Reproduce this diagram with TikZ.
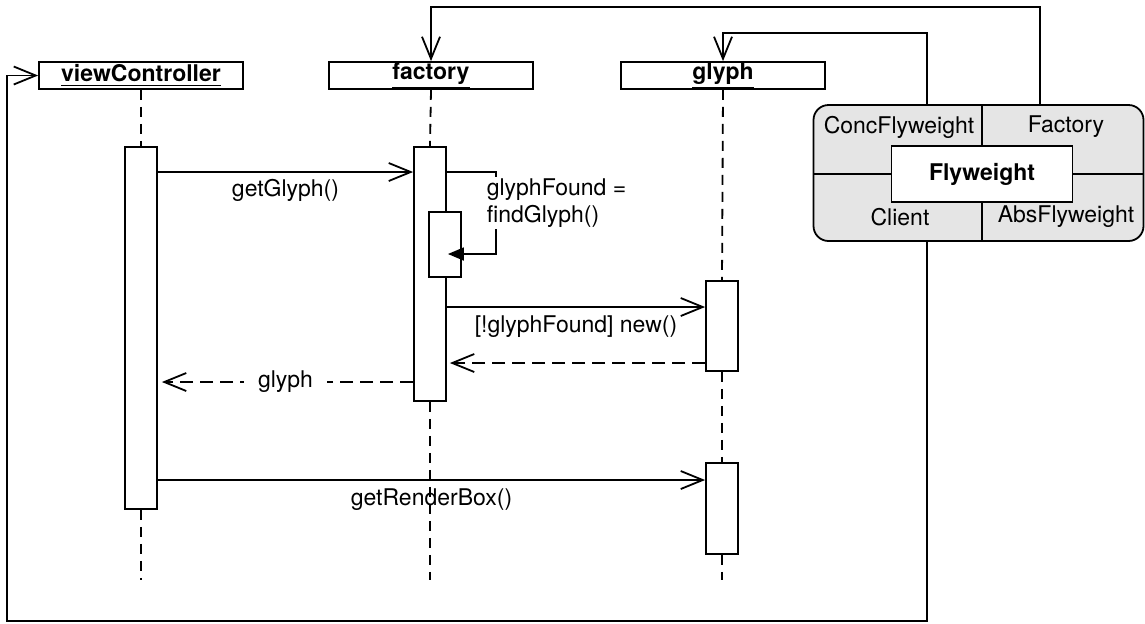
\documentclass[tikz,border=0pt]{standalone}
\usepackage{fontspec}
\setmainfont{TeX Gyre Heros}
\usetikzlibrary{arrows.meta}
\newcommand{\dfont}{\fontsize{11.5pt}{13.5pt}\selectfont}
\tikzstyle{object}=[draw, fill=white, minimum width=102pt, minimum height=13.5pt, inner sep=0pt, font=\dfont\bfseries]
\tikzstyle{act}=[draw, fill=white, minimum width=16pt, inner sep=0pt]
\tikzstyle{lifeline}=[dash pattern=on 5pt off 3.5pt]
\tikzstyle{msg}=[-{Straight Barb[length=11pt,width=9pt]}]
\tikzstyle{ret}=[msg, dash pattern=on 6.5pt off 3.5pt]
\newcommand{\obj}[3]{\node[object] (#1) at (#2,75.5){\underline{#3}};}

\begin{document}
\begin{tikzpicture}[x=0.5pt, y=-0.5pt, line width=0.9pt, font=\dfont]
\useasboundingbox (0,0) rectangle (1145,623);
% objects and activations
\obj{vc}{141}{viewController}
\obj{fac}{431}{factory}
\obj{gly}{723}{glyph}
\node[act, minimum height=181pt] (vca) at (141,328){};
\node[act, minimum height=127pt] (fa) at (430,274){};
\node[act, minimum height=32.5pt] (fb) at (445,244.5){};
\node[act, minimum height=45pt] (ga1) at (722,326){};
\node[act, minimum height=45.5pt] (ga2) at (722,508.5){};
\foreach \n/\x in {vcend/141, faend/430, glend/722}
	\node[inner sep=0pt] (\n) at (\x,582){};
\foreach \a/\b in {vc/vca, vca/vcend, fac/fa, fa/faend, gly/ga1, ga1/ga2, ga2/glend}
	\draw[lifeline] (\a.south) -- (\b.north);

% messages
\draw[msg] (vca.east |- 0,172) -- node[yshift=-9pt]{getGlyph()} (fa.west |- 0,172);
\draw[-{Triangle[length=8pt,width=6.5pt]}, shorten >=-7pt] (fa.east |- 0,172) -- (496,172) |- (fb.east |- 0,254);
\node[fill=white, align=left, anchor=west, inner sep=1pt] (find) at (484,203){glyphFound =\\findGlyph()};
\draw[msg] (fa.east |- 0,307) -- node[yshift=-10pt]{[!glyphFound] new()} (ga1.west |- 0,307);
\draw[ret, shorten >=1.5pt] (ga1.west |- 0,363) -- (fa.east |- 0,363);
\draw[ret, shorten >=2pt] (fa.west |- 0,382) -- node[fill=white, inner xsep=7pt]{glyph} (vca.east |- 0,382);
\draw[msg] (vca.east |- 0,480) -- node[yshift=-10pt]{getRenderBox()} (ga2.west |- 0,480);

% flyweight pattern
\node[draw, rounded corners=7.5pt, fill=black!10, minimum width=165pt, minimum height=68pt] (pat) at (978.5,173){};
\node[draw, fill=white, minimum width=90.5pt, minimum height=28pt, font=\dfont\bfseries] (fly) at (982,174){Flyweight};
\foreach \a in {north, south}
	\draw (fly.\a) -- (fly.\a |- pat.\a);
\foreach \a in {west, east}
	\draw (fly.\a) -- (fly.\a -| pat.\a);
\node (conc) at (899,127){ConcFlyweight};
\node (fact) at (1066,127){Factory};
\node (cli) at (900,217){Client};
\node (abs) at (1066,217){AbsFlyweight};

\draw[msg] (pat.north -| 1040,0) |- (fac.north |- 0,7) -- (fac.north);
\draw[msg] (pat.north -| 927,0) |- (gly.north |- 0,33) -- (gly.north);
\draw[msg] (pat.south -| 927,0) -- (927,621) -| (vc.west -| 7,0) -- (vc.west);
\end{tikzpicture}
\end{document}
